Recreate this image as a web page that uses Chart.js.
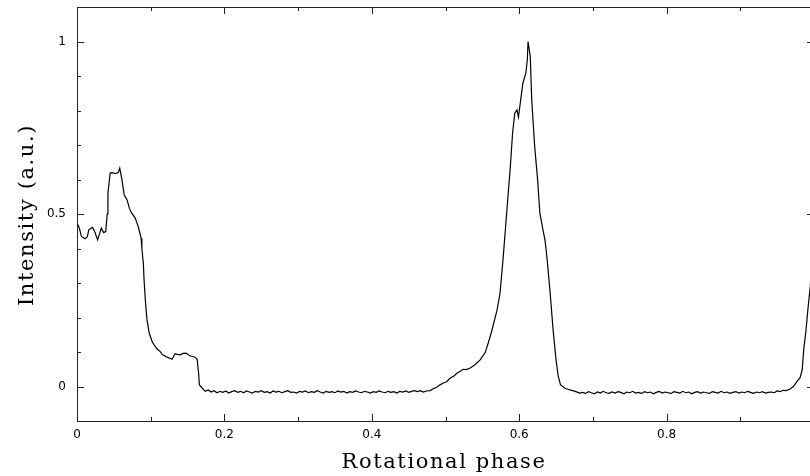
<!DOCTYPE html>
<html lang="en">
<head>
    <meta charset="UTF-8">
    <title>Rotational phase profile</title>
    <style>
        html, body {
            margin: 0;
            padding: 0;
            background: #ffffff;
        }
        .wrap {
            width: 810px;
            height: 476px;
            overflow: hidden;
            position: relative;
        }
        #profileChart {
            display: block;
        }
    </style>
</head>
<body>
    <div class="wrap">
        <canvas id="profileChart" width="814" height="476"></canvas>
    </div>
<script src="https://cdn.jsdelivr.net/npm/chart.js"></script>
<script>
    // phase / intensity
    const phase = [
        0.000, 0.003, 0.006, 0.011, 0.014, 0.016, 0.021, 0.024, 0.028, 0.033,
        0.036, 0.039, 0.041, 0.042, 0.045, 0.047, 0.052, 0.056, 0.058, 0.061,
        0.064, 0.068, 0.071, 0.074, 0.079, 0.083, 0.087, 0.088, 0.090, 0.091,
        0.093, 0.095, 0.098, 0.102, 0.106, 0.109, 0.113, 0.116, 0.119, 0.122,
        0.126, 0.129, 0.133, 0.136, 0.140, 0.144, 0.148, 0.153, 0.160, 0.163,
        0.165, 0.166, 0.170, 0.174, 0.178,
        0.182, 0.186, 0.190, 0.194, 0.198, 0.202, 0.206, 0.210, 0.214, 0.218,
        0.222, 0.226, 0.230, 0.234, 0.238, 0.242, 0.246, 0.250, 0.254, 0.258,
        0.262, 0.266, 0.270, 0.274, 0.278, 0.282, 0.286, 0.290, 0.294, 0.298,
        0.302, 0.306, 0.310, 0.314, 0.318, 0.322, 0.326, 0.330, 0.334, 0.338,
        0.342, 0.346, 0.350, 0.354, 0.358, 0.362, 0.366, 0.370, 0.374, 0.378,
        0.382, 0.386, 0.390, 0.394, 0.398, 0.402, 0.406, 0.410, 0.414, 0.418,
        0.422, 0.426, 0.430, 0.434, 0.438, 0.442, 0.446, 0.450, 0.454, 0.458,
        0.462, 0.466, 0.470, 0.474, 0.479, 0.484, 0.488, 0.492, 0.497, 0.501,
        0.506, 0.511, 0.516, 0.520, 0.524, 0.528, 0.533, 0.540, 0.547, 0.554,
        0.558, 0.562, 0.566, 0.570, 0.574, 0.578, 0.583, 0.588, 0.591, 0.594,
        0.597, 0.599, 0.602, 0.605, 0.609, 0.611, 0.612, 0.615, 0.617, 0.621,
        0.625, 0.628, 0.632, 0.635, 0.638, 0.642, 0.646, 0.650, 0.653, 0.656,
        0.662, 0.669, 0.676, 0.682,
        0.686, 0.690, 0.694, 0.698, 0.702, 0.706, 0.710, 0.714, 0.718, 0.722,
        0.726, 0.730, 0.734, 0.738, 0.742, 0.746, 0.750, 0.754, 0.758, 0.762,
        0.766, 0.770, 0.774, 0.778, 0.782, 0.786, 0.790, 0.794, 0.798, 0.802,
        0.806, 0.810, 0.814, 0.818, 0.822, 0.826, 0.830, 0.834, 0.838, 0.842,
        0.846, 0.850, 0.854, 0.858, 0.862, 0.866, 0.870, 0.874, 0.878, 0.882,
        0.886, 0.890, 0.894, 0.898, 0.902, 0.906, 0.910, 0.914, 0.918, 0.922,
        0.926, 0.930, 0.934, 0.938, 0.942, 0.946, 0.950, 0.954, 0.958, 0.962,
        0.967, 0.972, 0.977, 0.981, 0.984, 0.986, 0.989, 0.992, 0.995, 0.997,
        1.000
    ];
    const intensity = [
        0.474, 0.460, 0.435, 0.428, 0.434, 0.454, 0.461, 0.449, 0.425, 0.459,
        0.446, 0.449, 0.500, 0.561, 0.619, 0.620, 0.617, 0.620, 0.633, 0.599,
        0.556, 0.541, 0.517, 0.503, 0.488, 0.464, 0.430, 0.400, 0.358, 0.309,
        0.242, 0.193, 0.155, 0.130, 0.116, 0.108, 0.101, 0.092, 0.089, 0.085,
        0.082, 0.079, 0.095, 0.093, 0.092, 0.096, 0.097, 0.089, 0.085, 0.079,
        0.039, 0.005, -0.005, -0.014, -0.010,
        -0.016, -0.012, -0.018, -0.014, -0.017, -0.013, -0.019, -0.015, -0.012, -0.017,
        -0.014, -0.018, -0.013, -0.016, -0.019, -0.014, -0.016, -0.012, -0.017, -0.015,
        -0.019, -0.013, -0.016, -0.014, -0.018, -0.015, -0.012, -0.017, -0.016, -0.019,
        -0.014, -0.016, -0.013, -0.018, -0.015, -0.017, -0.012, -0.016, -0.019, -0.014,
        -0.017, -0.015, -0.018, -0.013, -0.016, -0.014, -0.019, -0.015, -0.017, -0.013,
        -0.016, -0.018, -0.014, -0.016, -0.019, -0.015, -0.017, -0.013, -0.016, -0.018,
        -0.014, -0.017, -0.015, -0.019, -0.014, -0.016, -0.013, -0.017, -0.014, -0.012,
        -0.015, -0.012, -0.016, -0.013, -0.012, -0.006, -0.002, 0.004, 0.010, 0.013,
        0.024, 0.030, 0.039, 0.044, 0.050, 0.049, 0.053, 0.063, 0.077, 0.099,
        0.126, 0.155, 0.188, 0.222, 0.271, 0.367, 0.503, 0.638, 0.734, 0.792,
        0.802, 0.781, 0.831, 0.879, 0.908, 0.947, 1.000, 0.957, 0.831, 0.696,
        0.599, 0.503, 0.456, 0.425, 0.367, 0.271, 0.164, 0.077, 0.029, 0.005,
        -0.005, -0.010, -0.014, -0.019,
        -0.017, -0.020, -0.015, -0.018, -0.021, -0.016, -0.019, -0.014, -0.018, -0.020,
        -0.016, -0.019, -0.015, -0.017, -0.021, -0.016, -0.018, -0.014, -0.019, -0.017,
        -0.020, -0.015, -0.018, -0.016, -0.021, -0.017, -0.014, -0.019, -0.016, -0.018,
        -0.020, -0.015, -0.017, -0.019, -0.014, -0.018, -0.016, -0.021, -0.017, -0.015,
        -0.019, -0.016, -0.018, -0.020, -0.015, -0.017, -0.019, -0.014, -0.018, -0.016,
        -0.020, -0.017, -0.015, -0.019, -0.016, -0.018, -0.014, -0.017, -0.020, -0.016,
        -0.018, -0.015, -0.019, -0.017, -0.016, -0.018, -0.013, -0.015, -0.011, -0.012,
        -0.008, 0.000, 0.015, 0.025, 0.048, 0.106, 0.160, 0.230, 0.290, 0.380,
        0.474
    ];

    // axis ticks
    const xMajorTicks = [0, 0.2, 0.4, 0.6, 0.8, 1.0];
    const xMinorTicks = [0.1, 0.3, 0.5, 0.7, 0.9];
    const xTickLabels = ['0', '0.2', '0.4', '0.6', '0.8'];
    const yMajorTicks = [0, 0.5, 1];
    const yMinorTicks = [0.1, 0.2, 0.3, 0.4, 0.6, 0.7, 0.8, 0.9];
    const yTickLabels = ['0', '0.5', '1'];

    const points = phase.map(function (p, i) { return { x: p, y: intensity[i] }; });

    // frame, inward ticks, labels and titles drawn with the chart's own scales
    const framePlugin = {
        id: 'frame',
        afterDraw: function (chart) {
            const ctx = chart.ctx;
            const a = chart.chartArea;
            const xs = chart.scales.x;
            const ys = chart.scales.y;
            ctx.save();
            ctx.strokeStyle = '#222';
            ctx.lineWidth = 1;
            ctx.strokeRect(a.left + 0.5, a.top + 0.5, a.right - a.left - 1, a.bottom - a.top);

            ctx.beginPath();
            function xTick(v, len) {
                const px = Math.round(xs.getPixelForValue(v)) + 0.5;
                ctx.moveTo(px, a.bottom); ctx.lineTo(px, a.bottom - len);
                ctx.moveTo(px, a.top); ctx.lineTo(px, a.top + len);
            }
            function yTick(v, len) {
                const py = Math.round(ys.getPixelForValue(v)) + 0.5;
                ctx.moveTo(a.left, py); ctx.lineTo(a.left + len, py);
                ctx.moveTo(a.right, py); ctx.lineTo(a.right - len, py);
            }
            xMajorTicks.forEach(function (v) { xTick(v, 7); });
            xMinorTicks.forEach(function (v) { xTick(v, 4); });
            yMajorTicks.forEach(function (v) { yTick(v, 7); });
            yMinorTicks.forEach(function (v) { yTick(v, 4); });
            ctx.stroke();

            ctx.fillStyle = '#000';
            ctx.font = '12px "DejaVu Sans"';
            ctx.textAlign = 'center';
            ctx.textBaseline = 'middle';
            xTickLabels.forEach(function (t, i) {
                ctx.fillText(t, xs.getPixelForValue(xMajorTicks[i]), a.bottom + 14);
            });
            ctx.textAlign = 'right';
            yTickLabels.forEach(function (t, i) {
                ctx.fillText(t, a.left - 11, ys.getPixelForValue(yMajorTicks[i]));
            });

            ctx.font = '21px "DejaVu Serif"';
            ctx.letterSpacing = '1.6px';
            ctx.textAlign = 'center';
            ctx.textBaseline = 'alphabetic';
            ctx.fillText('Rotational phase', 444, 468);

            ctx.translate(33, 215);
            ctx.rotate(-Math.PI / 2);
            ctx.fillText('Intensity (a.u.)', 0, 0);
            ctx.restore();
        }
    };

    new Chart(document.getElementById('profileChart').getContext('2d'), {
        type: 'line',
        data: {
            datasets: [{
                data: points,
                borderColor: '#000',
                borderWidth: 1.2,
                pointRadius: 0,
                tension: 0,
                fill: false
            }]
        },
        options: {
            responsive: false,
            animation: false,
            layout: { padding: { left: 77, top: 7, right: 0, bottom: 55 } },
            plugins: { legend: { display: false }, tooltip: { enabled: false } },
            scales: {
                x: { type: 'linear', min: 0, max: 1, display: false },
                y: { type: 'linear', min: -0.1, max: 1.1, display: false }
            }
        },
        plugins: [framePlugin]
    });
</script>
</body>
</html>
